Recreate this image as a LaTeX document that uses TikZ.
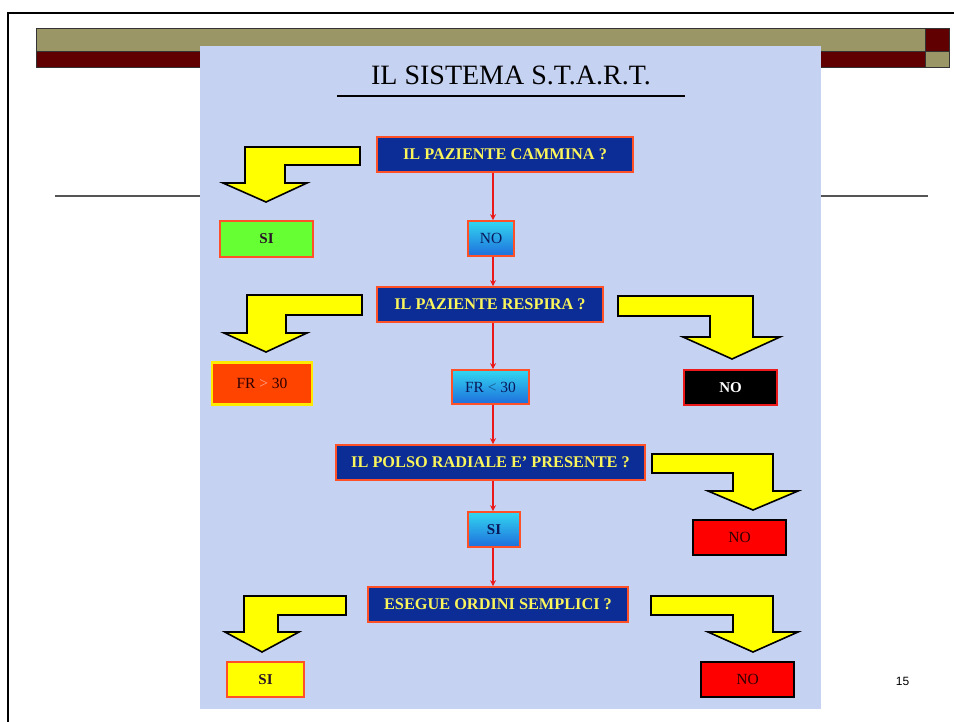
\documentclass[tikz,border=0pt]{standalone}
\usepackage{fontspec}
\setmainfont{Liberation Serif}
\newfontfamily\pagefont{Liberation Sans}
\usetikzlibrary{arrows.meta}
\definecolor{qblue}{RGB}{12,44,150}
\definecolor{qborder}{RGB}{255,80,40}
\definecolor{qtext}{RGB}{250,245,90}
\definecolor{panelbg}{RGB}{198,210,242}
\definecolor{olivebar}{RGB}{154,150,102}
\definecolor{darkbar}{RGB}{96,0,0}
\definecolor{flowred}{RGB}{235,25,25}
\definecolor{arrowyellow}{RGB}{255,255,0}
\definecolor{sigreen}{RGB}{102,255,51}
\definecolor{frfill}{RGB}{255,68,0}
\definecolor{frborder}{RGB}{255,235,0}
\definecolor{cyantop}{RGB}{50,215,240}
\definecolor{cyanbot}{RGB}{30,110,220}
\definecolor{textdark}{RGB}{40,20,40}
\definecolor{textnavy}{RGB}{10,25,90}
\definecolor{textbrown}{RGB}{45,0,0}
\definecolor{linegray}{RGB}{85,85,85}
\tikzset{
  question/.style={draw=qborder, fill=qblue, line width=1.6pt, text=qtext,
    font=\bfseries\fontsize{16.3}{18}\selectfont, inner sep=0pt, minimum height=35pt},
  cyanbox/.style={draw=qborder, line width=1.6pt, top color=cyantop, bottom color=cyanbot,
    text=textnavy, font=\fontsize{15.5}{17}\selectfont, inner sep=0pt, minimum height=35pt},
  outbox/.style={line width=1.6pt, inner sep=0pt, minimum height=35pt, minimum width=93pt,
    font=\fontsize{15.5}{17}\selectfont},
  flow/.style={draw=flowred, line width=1.3pt, -{Stealth[length=6pt,width=6pt]}},
  bentarrow/.style={fill=arrowyellow, draw=black, line width=1.6pt, line join=miter},
  barbox/.style={draw=black!80, line width=0.8pt}
}
\begin{document}
\begin{tikzpicture}[x=1pt,y=-1pt]
\useasboundingbox (0,0) rectangle (954,722);
% slide frame
\draw[line width=2.4pt] (8,740) -- (8,13) -- (970,13);
% header bars
\draw[barbox, fill=olivebar] (36,28) rectangle (925,51);
\draw[barbox, fill=darkbar] (36,51) rectangle (925,67);
\draw[barbox, fill=darkbar] (925,28) rectangle (949,51);
\draw[barbox, fill=olivebar] (925,51) rectangle (949,67);
% gray rule
\draw[linegray, line width=1.4pt] (55,196) -- (928,196);
% picture panel
\fill[panelbg] (200,46) rectangle (821,709);
% title
\node[font=\fontsize{28}{30}\selectfont, anchor=base] (title) at (511,85) {IL SISTEMA S.T.A.R.T.};
\draw[line width=1.6pt] (337,96) -- (685,96);
% main column
\coordinate (spine) at (493,0);
\node[question, minimum width=256pt] (q1) at (505,154.5) {IL PAZIENTE CAMMINA ?};
\node[cyanbox, minimum width=46pt] (no1) at (491,238.5) {NO};
\node[question, minimum width=226pt] (q2) at (490,304.5) {IL PAZIENTE RESPIRA ?};
\node[cyanbox, minimum width=77pt, minimum height=34pt] (fr1) at (490.5,387) {FR {\color{textnavy!70!cyantop}<} 30};
\node[question, minimum width=309pt] (q3) at (490.5,462.5) {IL POLSO RADIALE E' PRESENTE ?};
\node[cyanbox, minimum width=52pt, font=\bfseries\fontsize{15}{17}\selectfont] (si1) at (494,529.5) {SI};
\node[question, minimum width=260pt] (q4) at (498,604.5) {ESEGUE ORDINI SEMPLICI ?};
% flow connectors
\draw[flow] (q1.south -| spine) -- (no1.north -| spine);
\draw[flow] (no1.south -| spine) -- (q2.north -| spine);
\draw[flow] (q2.south -| spine) -- (fr1.north -| spine);
\draw[flow] (fr1.south -| spine) -- (q3.north -| spine);
\draw[flow] (q3.south -| spine) -- (si1.north -| spine);
\draw[flow] (si1.south -| spine) -- (q4.north -| spine);
% outcome boxes
\node[outbox, draw=qborder, fill=sigreen, text=textdark, font=\bfseries\fontsize{15}{17}\selectfont, minimum height=36pt] (siG) at (266.5,239) {SI};
\node[outbox, draw=frborder, line width=2.8pt, fill=frfill, text=textbrown, minimum width=100pt, minimum height=42pt] (frG) at (262,383.5) {FR {\color{qborder!50!white}>} 30};
\node[outbox, draw=qborder, fill=arrowyellow, text=textdark, font=\bfseries\fontsize{15}{17}\selectfont, minimum width=77pt] (siY) at (265.5,679.5) {SI};
\node[outbox, draw=flowred, fill=black, text=white, font=\bfseries\fontsize{15}{17}\selectfont] (noB) at (730.5,387.5) {NO};
\node[outbox, draw=black, fill=red, text=textbrown] (noR1) at (739.5,537.5) {NO};
\node[outbox, draw=black, fill=red, text=textbrown] (noR2) at (747.5,679.5) {NO};
% yellow bent arrows
\draw[bentarrow] (360,147) -- (245,147) -- (245,183) -- (223,183) -- (266,202) -- (307,183) -- (285,183) -- (285,165) -- (360,165) -- cycle;
\draw[bentarrow] (362,295) -- (247,295) -- (247,333) -- (224,333) -- (266,352) -- (307,333) -- (286,333) -- (286,315) -- (362,315) -- cycle;
\draw[bentarrow] (618,296) -- (753,296) -- (753,337) -- (780,337) -- (732,359) -- (683,337) -- (710,337) -- (710,316) -- (618,316) -- cycle;
\draw[bentarrow] (652,454) -- (773,454) -- (773,491) -- (798,491) -- (753,510) -- (708,491) -- (733,491) -- (733,473) -- (652,473) -- cycle;
\draw[bentarrow] (346,596) -- (244,596) -- (244,632) -- (225,632) -- (262,652) -- (299,632) -- (278,632) -- (278,615) -- (346,615) -- cycle;
\draw[bentarrow] (651,596) -- (773,596) -- (773,632) -- (798,632) -- (753,652) -- (708,632) -- (733,632) -- (733,615) -- (651,615) -- cycle;
% page number
\node[font=\pagefont\fontsize{12}{14}\selectfont] (pnum) at (902.5,681.5) {15};
\end{tikzpicture}
\end{document}
